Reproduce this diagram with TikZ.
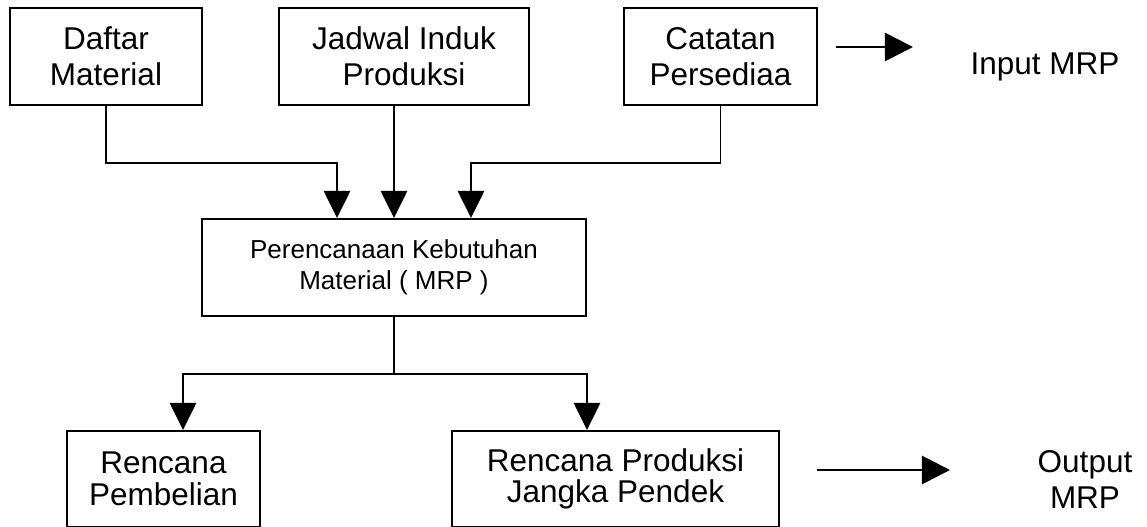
\documentclass[tikz,border=0pt]{standalone}
\usepackage{fontspec}
\setmainfont{Liberation Sans}
\usetikzlibrary{arrows.meta}
\usetikzlibrary{calc}
\tikzset{box/.style = {draw, rectangle, line width = 1.4pt, inner sep = 0, align = center,
                       minimum height = 2.425cm, font = \fontsize{22.4}{25.6}\selectfont}}
\tikzset{lowbox/.style = {box, minimum height = 2.4cm, font = \fontsize{22.4}{22.4}\selectfont}}
\tikzset{flow/.style = {line width = 1.4pt, -{Triangle[length = 0.68cm, width = 0.66cm]}}}
\tikzset{bigflow/.style = {line width = 2pt, -{Triangle[length = 0.7cm, width = 0.7cm]}}}

\begin{document}
\begin{tikzpicture}[x = 0.025cm, y = -0.025cm]
      \useasboundingbox (0, 0) rectangle (1147, 527);

      \node [box, minimum width = 4.8cm] (daftar) at (106, 56.5) {Daftar\\Material};
      \node [box, minimum width = 6.25cm] (jadwal) at (404, 56.5) {Jadwal Induk\\Produksi};
      \node [box, minimum width = 4.825cm] (catatan) at (720.5, 56.5) {Catatan\\Persediaa};

      \node [box, minimum width = 9.6cm, font = \fontsize{18.5}{22}\selectfont] (mrp) at (394, 267.5)
            {Perencanaan Kebutuhan\\Material ( MRP )};

      \node [lowbox, minimum width = 4.825cm] (pembelian) at (163.5, 479) {Rencana\\Pembelian};
      \node [lowbox, minimum width = 8.175cm] (produksi) at (615.5, 479) {Rencana Produksi\\Jangka Pendek};

      \node [font = \fontsize{22.4}{25.6}\selectfont] (input) at (1045, 66.5) {Input MRP};
      \node [align = center, font = \fontsize{22.4}{24.9}\selectfont] (output) at (1085, 479.5) {Output\\MRP};

      % inputs into MRP
      \draw [flow] (daftar.south) -- ++(0, 57) -| ($(mrp.north) + (-57, 0)$);
      \draw [flow] (mrp.north |- jadwal.south) -- (mrp.north);
      \draw [flow] (catatan.south) -- ++(0, 57) -| ($(mrp.north) + (77, 0)$);

      % outputs of MRP
      \draw [line width = 1.4pt] (mrp.south) -- ++(0, 57) coordinate (split);
      \draw [flow] (split) -| ($(pembelian.north) + (19.5, 0)$);
      \draw [flow] (split) -| ($(produksi.north) + (-28.5, 0)$);

      \coordinate (inA) at (836, 47);
      \coordinate (inB) at (913, 47);
      \coordinate (outA) at (817, 470);
      \coordinate (outB) at (950, 470);
      \draw [bigflow] (inA) -- (inB);
      \draw [bigflow] (outA) -- (outB);
\end{tikzpicture}
\end{document}
